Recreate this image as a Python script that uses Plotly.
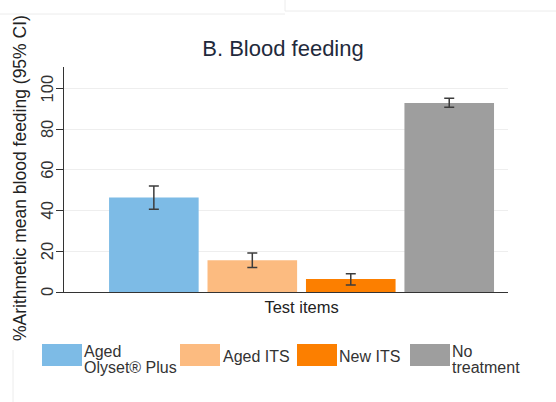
import plotly.graph_objects as go

# data
categories = ["Aged Olyset® Plus", "Aged ITS", "New ITS", "No treatment"]
legendLabels = [["Aged", "Olyset® Plus"], ["Aged ITS"], ["New ITS"], ["No", "treatment"]]
meanFeeding = [46.4, 15.6, 6.4, 92.8]
ciLow = [40.7, 12.0, 3.4, 90.7]
ciHigh = [52.1, 19.2, 9.0, 95.1]
colors = ["#7dbbe6", "#fcbb80", "#fc7f00", "#9e9e9e"]
yTicks = [0, 20, 40, 60, 80, 100]

W, H = 556, 402
L, R, T, B = 64, 48, 67, 110
fontName = "Liberation Sans, Arial, sans-serif"


def px(x, y):
    """pixel position -> paper coordinates"""
    return (x - L) / (W - L - R), (H - B - y) / (H - T - B)


fig = go.Figure()
for i in range(len(categories)):
    fig.add_trace(go.Bar(
        x=["Test items"],
        y=[meanFeeding[i]],
        name=categories[i],
        marker=dict(color=colors[i], line=dict(width=0)),
        error_y=dict(type="data", symmetric=False,
                     array=[ciHigh[i] - meanFeeding[i]],
                     arrayminus=[meanFeeding[i] - ciLow[i]],
                     color="#3c3c3c", thickness=1.5, width=5),
        showlegend=False,
    ))

# hand-made legend with wide swatches
legendX = [42, 180, 297, 410]
textX = [85, 224, 340, 453]
shapes = []
annotations = []
for i in range(len(categories)):
    x0, y0 = px(legendX[i], 366)
    x1, y1 = px(legendX[i] + 40, 344)
    shapes.append(dict(type="rect", xref="paper", yref="paper", x0=x0, x1=x1, y0=y0, y1=y1,
                       fillcolor=colors[i], line=dict(width=0)))
    lines = legendLabels[i]
    if len(lines) == 1:
        rows = [356]
    else:
        rows = [351, 367]
    for text, row in zip(lines, rows):
        tx, ty = px(textX[i] - 2, row)
        annotations.append(dict(xref="paper", yref="paper", x=tx, y=ty, xanchor="left", yanchor="middle",
                                text=text, showarrow=False, align="left", borderpad=0,
                                font=dict(size=16, color="#333333", family=fontName)))

# rotated y tick labels, centred on their ticks (stata style)
tickX, _ = px(47, 0)
for v in yTicks:
    annotations.append(dict(xref="paper", yref="y", x=tickX, y=v, textangle=-90,
                            xanchor="center", yanchor="middle", text=str(v), showarrow=False,
                            borderpad=0, font=dict(size=16.5, color="#333333", family=fontName)))

# y axis title
titleX, titleY = px(20, 178)
annotations.append(dict(xref="paper", yref="paper", x=titleX, y=titleY, textangle=-90,
                        xanchor="center", yanchor="middle", showarrow=False, borderpad=0,
                        text="%Arithmetic mean blood feeding (95% CI)",
                        font=dict(size=17.5, color="#222222", family=fontName)))

# faint screenshot borders
for (ax, ay, bx, by) in [(0, 14, 285, 14), (285, 0, 285, 11), (285, 11, 556, 11), (13, 350, 13, 402)]:
    a0, b0 = px(ax, ay)
    a1, b1 = px(bx, by)
    shapes.append(dict(type="line", xref="paper", yref="paper", x0=a0, y0=b0, x1=a1, y1=b1,
                       line=dict(color="#ececec", width=1)))

fig.update_layout(
    width=W, height=H,
    margin=dict(l=L, r=R, t=T, b=B),
    paper_bgcolor="white", plot_bgcolor="white",
    barmode="group", bargap=0.113, bargroupgap=0.09,
    title=dict(text="B. Blood feeding", x=(283 - L) / (W - L - R), xref="paper", xanchor="center",
               y=1 - 48 / H, yanchor="middle",
               font=dict(size=22, color="#1f2a3c", family=fontName)),
    font=dict(family=fontName, color="#333333"),
    shapes=shapes,
    annotations=annotations,
)
fig.update_xaxes(range=[-0.535, 0.465], showline=True, linecolor="#333333", linewidth=1,
                 showgrid=False, ticks="", tickfont=dict(size=16.5, color="#222222"))
fig.update_yaxes(range=[0, 110.5], tickvals=yTicks, showline=True, linecolor="#333333", linewidth=1,
                 ticks="outside", ticklen=7, tickcolor="#333333", showticklabels=False,
                 showgrid=True, gridcolor="#eeeeee", gridwidth=1, zeroline=False)

fig.write_html("out.html", config={"displayModeBar": False},
               post_script="document.body.style.margin='0';")
